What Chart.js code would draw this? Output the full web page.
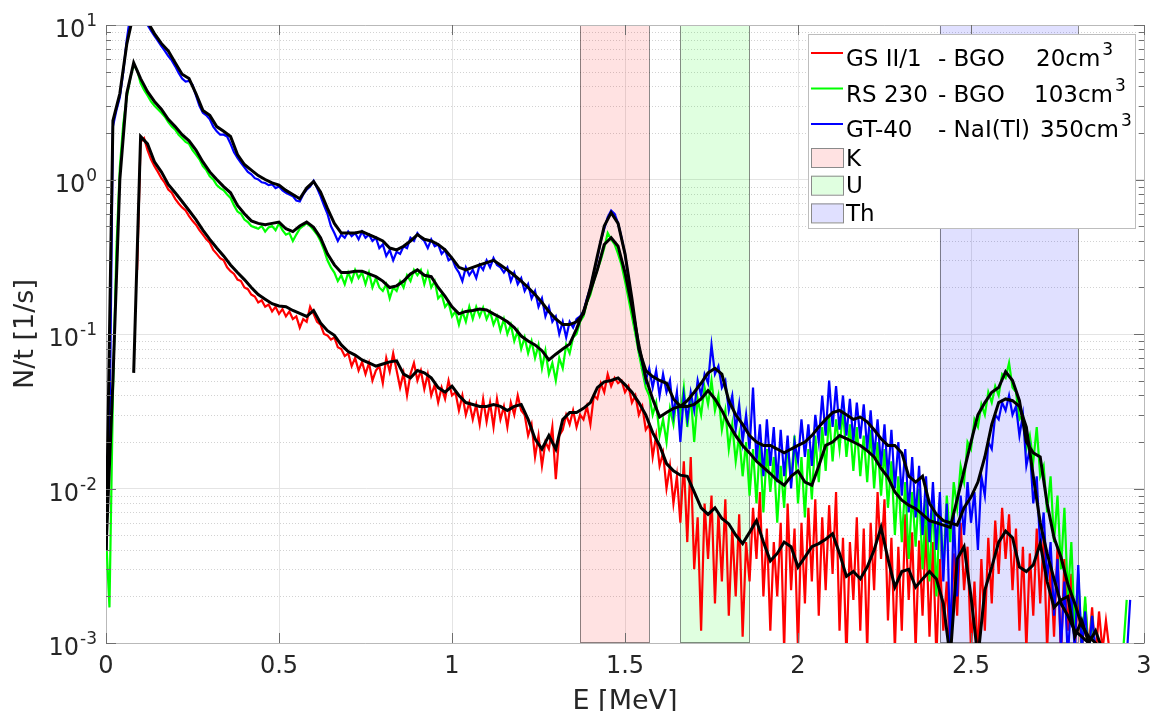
<!DOCTYPE html>
<html>
<head>
<meta charset="utf-8">
<script src="https://cdn.jsdelivr.net/npm/chart.js@4.4.1/dist/chart.umd.min.js"></script>
<style>
  html, body { margin: 0; padding: 0; background: #fff; }
  #wrap { width: 1153px; height: 711px; position: relative; }
</style>
</head>
<body>
<div id="wrap"><canvas id="spectra"></canvas></div>
<script>
// channel energies in MeV (raw spectra every 10 keV, smoothed curves every 20 keV)
var energyRaw = [];
for (var i = 0; i <= 300; i++) energyRaw.push(+(i * 0.01).toFixed(2));
var energySmooth = [];
for (var j = 0; j <= 150; j++) energySmooth.push(+(j * 0.02).toFixed(2));

var seriesColors = ['#ff0000', '#00ff00', '#0000ff'];

// GS II/1 - BGO 20cm3 (red), N/t in 1/s
var gsSpectrum = [
  null, null, null, null, null, null, null, null, null, 0.26,          // 0.00
  1.75, 1.85, 1.55, 1.35, 1.22, 1.12, 1.02, 0.95, 0.86, 0.82,          // 0.10
  0.75, 0.7, 0.66, 0.63, 0.58, 0.54, 0.51, 0.47, 0.44, 0.41,           // 0.20
  0.39, 0.35, 0.33, 0.31, 0.3, 0.27, 0.255, 0.245, 0.225, 0.22,        // 0.30
  0.2, 0.195, 0.18, 0.175, 0.16, 0.165, 0.15, 0.155, 0.14, 0.15,       // 0.40
  0.135, 0.145, 0.13, 0.14, 0.125, 0.13, 0.11, 0.125, 0.12, 0.15,      // 0.50
  0.135, 0.12, 0.115, 0.1, 0.098, 0.092, 0.095, 0.082, 0.08, 0.072,    // 0.60
  0.075, 0.062, 0.07, 0.058, 0.066, 0.055, 0.065, 0.05, 0.058, 0.062,  // 0.70
  0.048, 0.07, 0.057, 0.075, 0.058, 0.045, 0.056, 0.04, 0.055, 0.065,  // 0.80
  0.05, 0.058, 0.044, 0.055, 0.04, 0.047, 0.036, 0.045, 0.038, 0.05,   // 0.90
  0.04, 0.042, 0.032, 0.04, 0.03, 0.036, 0.028, 0.035, 0.026, 0.038,   // 1.00
  0.027, 0.036, 0.025, 0.038, 0.028, 0.034, 0.025, 0.036, 0.03, 0.04,  // 1.10
  0.032, 0.03, 0.022, 0.026, 0.016, 0.022, 0.014, 0.02, 0.018, 0.025,  // 1.20
  0.0115, 0.022, 0.024, 0.03, 0.026, 0.032, 0.025, 0.03, 0.028, 0.034, // 1.30
  0.026, 0.04, 0.038, 0.048, 0.042, 0.055, 0.046, 0.052, 0.048, 0.05,  // 1.40
  0.042, 0.046, 0.036, 0.04, 0.03, 0.034, 0.024, 0.026, 0.016, 0.022,  // 1.50
  0.014, 0.017, 0.01, 0.014, 0.008, 0.012, 0.006, 0.015, 0.0045, 0.016,          // 1.60
  0.003, 0.0065, 0.0012, 0.008, 0.0035, 0.009, 0.0018, 0.007, 0.0025, 0.0085,    // 1.70
  0.0015, 0.0055, 0.002, 0.0068, 0.0011, 0.0045, 0.0025, 0.0075, 0.0035, 0.0095, // 1.80
  0.002, 0.0055, 0.0012, 0.0045, 0.002, 0.006, 0.0009, 0.008, 0.0022, 0.0055,    // 1.90
  0.0009, 0.006, 0.0018, 0.0075, 0.0025, 0.0085, 0.0015, 0.0065, 0.0022, 0.0078, // 2.00
  0.0028, 0.0095, 0.0012, 0.0048, 0.0008, 0.0045, 0.0019, 0.0065, 0.0012, 0.0055,// 2.10
  0.0009, 0.006, 0.0022, 0.0095, 0.0035, 0.0085, 0.0014, 0.0048, 0.0009, 0.0042, // 2.20
  0.0012, 0.0068, 0.0019, 0.0052, 0.0009, 0.0046, 0.0015, 0.0058, 0.0011, 0.0045,// 2.30
  0.0008, 0.0035, 0.0012, 0.0025, 0.0008, 0.0038, 0.0015, 0.006, 0.0022, 0.0042, // 2.40
  0.0009, 0.0025, 0.0008, 0.0035, 0.0012, 0.0048, 0.0018, 0.0062, 0.0028, 0.0075,// 2.50
  0.0035, 0.0068, 0.0022, 0.0055, 0.0012, 0.0042, 0.0009, 0.0038, 0.0015, 0.0055,// 2.60
  0.0018, 0.0048, 0.0009, 0.0032, 0.0011, 0.0042, 0.0008, 0.0035, 0.0012, 0.0028,// 2.70
  0.0009, 0.0022, 0.0008, 0.0018, 0.0009, 0.0017, 0.0008, 0.0016, 0.0009, 0.0014,// 2.80
  0.0009, null, null, null, null, null, null, null, null, null,                    // 2.90
  null                                                                             // 3.00
];

// RS 230 - BGO 103cm3 (green)
var rsSpectrum = [
  0.005, 0.0017, 0.04, 0.35, 1.2, 2.3, 3.4, 4.5, 5.5, 5.1,            // 0.00
  4.2, 3.8, 3.5, 3.2, 3.0, 2.85, 2.7, 2.55, 2.35, 2.2,                // 0.10
  2.1, 1.95, 1.85, 1.75, 1.7, 1.55, 1.45, 1.35, 1.22, 1.15,           // 0.20
  1.05, 1.0, 0.92, 0.88, 0.85, 0.8, 0.76, 0.68, 0.62, 0.6,            // 0.30
  0.55, 0.53, 0.5, 0.49, 0.48, 0.5, 0.46, 0.49, 0.5, 0.47,            // 0.40
  0.52, 0.47, 0.44, 0.45, 0.4, 0.44, 0.48, 0.5, 0.52, 0.5,            // 0.50
  0.47, 0.44, 0.4, 0.35, 0.3, 0.27, 0.25, 0.22, 0.24, 0.21,           // 0.60
  0.25, 0.22, 0.26, 0.23, 0.25, 0.21, 0.25, 0.2, 0.23, 0.2,           // 0.70
  0.19, 0.21, 0.17, 0.2, 0.19, 0.22, 0.2, 0.24, 0.22, 0.26,           // 0.80
  0.24, 0.26, 0.21, 0.25, 0.2, 0.22, 0.17, 0.18, 0.15, 0.16,          // 0.90
  0.13, 0.14, 0.115, 0.14, 0.12, 0.15, 0.125, 0.15, 0.13, 0.148,      // 1.00
  0.125, 0.14, 0.115, 0.13, 0.105, 0.125, 0.1, 0.115, 0.09, 0.105,    // 1.10
  0.08, 0.095, 0.075, 0.09, 0.07, 0.085, 0.06, 0.078, 0.055, 0.065,   // 1.20
  0.05, 0.07, 0.06, 0.085, 0.075, 0.095, 0.1, 0.12, 0.13, 0.16,       // 1.30
  0.18, 0.22, 0.26, 0.3, 0.36, 0.45, 0.41, 0.38, 0.33, 0.28,          // 1.40
  0.22, 0.17, 0.13, 0.1, 0.075, 0.058, 0.045, 0.04, 0.03, 0.036,      // 1.50
  0.022, 0.028, 0.02, 0.033, 0.026, 0.04, 0.03, 0.045, 0.025, 0.04,   // 1.60
  0.02, 0.038, 0.03, 0.045, 0.035, 0.05, 0.032, 0.04, 0.024, 0.032,   // 1.70
  0.018, 0.026, 0.015, 0.022, 0.012, 0.02, 0.009, 0.018, 0.008, 0.02, // 1.80
  0.007, 0.018, 0.0095, 0.016, 0.006, 0.014, 0.0075, 0.02, 0.011, 0.022,   // 1.90
  0.008, 0.016, 0.0065, 0.018, 0.0085, 0.022, 0.011, 0.025, 0.013, 0.03,   // 2.00
  0.015, 0.028, 0.018, 0.032, 0.016, 0.026, 0.013, 0.025, 0.012, 0.022,    // 2.10
  0.011, 0.024, 0.01, 0.02, 0.009, 0.018, 0.0075, 0.015, 0.005, 0.012,     // 2.20
  0.0045, 0.011, 0.0035, 0.0095, 0.0042, 0.01, 0.003, 0.0085, 0.0025, 0.009,// 2.30
  0.002, 0.0075, 0.003, 0.009, 0.0045, 0.011, 0.0075, 0.014, 0.011, 0.02,  // 2.40
  0.018, 0.028, 0.025, 0.035, 0.03, 0.042, 0.036, 0.046, 0.04, 0.055,      // 2.50
  0.052, 0.065, 0.045, 0.042, 0.028, 0.03, 0.018, 0.022, 0.015, 0.025,     // 2.60
  0.012, 0.014, 0.007, 0.012, 0.0045, 0.009, 0.003, 0.0075, 0.002, 0.0045, // 2.70
  0.0012, 0.0028, 0.0009, 0.002, 0.0008, 0.0015, 0.0008, null, null, null, // 2.80
  null, null, null, null, 0.0009, 0.0019, null, null, null, null,          // 2.90
  null                                                                     // 3.00
];

// GT-40 - NaI(Tl) 350cm3 (blue)
var gtSpectrum = [
  0.004, 0.02, 2.2, 2.8, 3.4, 5.0, 8.0, 11.5, 13, 13,                 // 0.00
  12, 10.8, 10, 9.2, 8.5, 7.9, 7.3, 6.8, 6.3, 5.9,                    // 0.10
  5.4, 4.9, 4.5, 4.3, 4.35, 4.1, 3.5, 3.0, 2.7, 2.6,                  // 0.20
  2.45, 2.2, 2.05, 1.95, 1.95, 1.9, 1.7, 1.5, 1.38, 1.28,             // 0.30
  1.2, 1.12, 1.08, 1.02, 1.0, 0.96, 0.95, 0.92, 0.93, 0.88,           // 0.40
  0.9, 0.85, 0.82, 0.8, 0.78, 0.73, 0.72, 0.8, 0.86, 0.9,             // 0.50
  0.98, 0.88, 0.78, 0.68, 0.6, 0.5, 0.45, 0.4, 0.44, 0.42,            // 0.60
  0.46, 0.43, 0.45, 0.41, 0.46, 0.42, 0.44, 0.4, 0.42, 0.36,          // 0.70
  0.38, 0.32, 0.35, 0.3, 0.34, 0.33, 0.37, 0.36, 0.42, 0.4,           // 0.80
  0.45, 0.42, 0.4, 0.36, 0.41, 0.37, 0.38, 0.33, 0.35, 0.3,           // 0.90
  0.31, 0.27, 0.25, 0.22, 0.27, 0.24, 0.26, 0.23, 0.28, 0.26,         // 1.00
  0.3, 0.27, 0.31, 0.28, 0.27, 0.25, 0.27, 0.22, 0.25, 0.21,          // 1.10
  0.23, 0.19, 0.21, 0.17, 0.19, 0.15, 0.17, 0.13, 0.15, 0.12,         // 1.20
  0.13, 0.1, 0.12, 0.095, 0.12, 0.11, 0.125, 0.13, 0.14, 0.17,        // 1.30
  0.2, 0.25, 0.31, 0.4, 0.48, 0.57, 0.63, 0.6, 0.52, 0.42,            // 1.40
  0.33, 0.23, 0.16, 0.11, 0.08, 0.065, 0.05, 0.06, 0.045, 0.058,      // 1.50
  0.04, 0.055, 0.042, 0.05, 0.03, 0.042, 0.02, 0.04, 0.028, 0.042,    // 1.60
  0.032, 0.05, 0.04, 0.055, 0.048, 0.085, 0.055, 0.062, 0.045, 0.05,  // 1.70
  0.032, 0.04, 0.024, 0.035, 0.02, 0.03, 0.018, 0.045, 0.015, 0.026,  // 1.80
  0.012, 0.028, 0.014, 0.025, 0.011, 0.024, 0.012, 0.022, 0.01, 0.02, // 1.90
  0.015, 0.028, 0.016, 0.026, 0.014, 0.03, 0.02, 0.04, 0.022, 0.05,   // 2.00
  0.025, 0.046, 0.024, 0.04, 0.022, 0.038, 0.02, 0.036, 0.021, 0.035, // 2.10
  0.018, 0.032, 0.016, 0.028, 0.014, 0.026, 0.012, 0.024, 0.01, 0.02, // 2.20
  0.009, 0.018, 0.007, 0.016, 0.0065, 0.014, 0.005, 0.012, 0.0045, 0.011,   // 2.30
  0.004, 0.0095, 0.0025, 0.008, 0.0009, 0.007, 0.002, 0.009, 0.005, 0.011,  // 2.40
  0.006, 0.0095, 0.004, 0.012, 0.009, 0.02, 0.018, 0.03, 0.028, 0.036,      // 2.50
  0.032, 0.04, 0.03, 0.034, 0.022, 0.03, 0.014, 0.018, 0.008, 0.012,        // 2.60
  0.004, 0.007, 0.0025, 0.0045, 0.0015, 0.0035, 0.0009, 0.0025, 0.0008, 0.002, // 2.70
  0.0009, 0.0032, 0.0009, 0.0016, 0.0008, 0.0015, 0.0009, null, null, null, // 2.80
  null, null, null, null, null, 0.0008, 0.0019, null, null, null,           // 2.90
  null                                                                      // 3.00
];

// smoothed curves (black), every 20 keV
var gsSmooth = [
  null, null, null, null, 0.056, 1.9, 1.7, 1.3, 1.12, 0.93,                   // 0.00
  0.82, 0.72, 0.63, 0.55, 0.47, 0.41, 0.36, 0.32, 0.28, 0.25,                 // 0.20
  0.225, 0.2, 0.18, 0.168, 0.157, 0.152, 0.15, 0.142, 0.136, 0.13,            // 0.40
  0.142, 0.118, 0.105, 0.098, 0.085, 0.077, 0.073, 0.068, 0.065, 0.062,       // 0.60
  0.064, 0.066, 0.067, 0.055, 0.052, 0.058, 0.056, 0.052, 0.045, 0.042,       // 0.80
  0.046, 0.04, 0.036, 0.035, 0.034, 0.034, 0.035, 0.034, 0.032, 0.034,        // 1.00
  0.035, 0.028, 0.021, 0.018, 0.022, 0.018, 0.028, 0.031, 0.031, 0.033,       // 1.20
  0.036, 0.045, 0.049, 0.05, 0.052, 0.047, 0.042, 0.036, 0.03, 0.023,         // 1.40
  0.019, 0.0145, 0.013, 0.0122, 0.012, 0.0095, 0.0075, 0.0068, 0.0075, 0.0064,// 1.60
  0.0059, 0.005, 0.0044, 0.0052, 0.0062, 0.0045, 0.0034, 0.0038, 0.0045, 0.0042, // 1.80
  0.0031, 0.0036, 0.0042, 0.0044, 0.0047, 0.0051, 0.0038, 0.0027, 0.0029, 0.0026, // 2.00
  0.0031, 0.004, 0.0056, 0.0035, 0.0023, 0.0029, 0.003, 0.0023, 0.0026, 0.0029,  // 2.20
  0.0026, 0.0018, 0.0008, 0.0035, 0.0042, 0.002, 0.0008, 0.0022, 0.0031, 0.0045, // 2.40
  0.0053, 0.0048, 0.0031, 0.0029, 0.0032, 0.0044, 0.0025, 0.0017, 0.0019, 0.002, // 2.60
  0.0011, 0.0014, 0.001, 0.0012, 0.0009, null, null, null, null, null,        // 2.80
  null                                                                         // 3.00
];

var rsSmooth = [
  0.004, 0.05, 1.0, 3.6, 5.7, 4.5, 3.7, 3.2, 2.85, 2.45,                      // 0.00
  2.2, 1.95, 1.78, 1.55, 1.3, 1.12, 1.0, 0.9, 0.82, 0.68,                     // 0.20
  0.6, 0.54, 0.52, 0.51, 0.52, 0.53, 0.48, 0.46, 0.5, 0.53,                   // 0.40
  0.49, 0.42, 0.33, 0.28, 0.25, 0.25, 0.255, 0.255, 0.245, 0.235,             // 0.60
  0.22, 0.2, 0.205, 0.22, 0.245, 0.26, 0.24, 0.235, 0.2, 0.175,               // 0.80
  0.15, 0.135, 0.14, 0.142, 0.145, 0.143, 0.135, 0.128, 0.12, 0.11,           // 1.00
  0.097, 0.09, 0.085, 0.078, 0.068, 0.074, 0.08, 0.086, 0.108, 0.14,          // 1.20
  0.19, 0.26, 0.38, 0.42, 0.37, 0.25, 0.15, 0.085, 0.052, 0.038,              // 1.40
  0.029, 0.031, 0.033, 0.034, 0.034, 0.035, 0.038, 0.043, 0.038, 0.032,       // 1.60
  0.026, 0.022, 0.019, 0.017, 0.015, 0.0137, 0.0125, 0.0113, 0.0105, 0.012,   // 1.80
  0.013, 0.011, 0.0105, 0.014, 0.019, 0.02, 0.022, 0.021, 0.02, 0.019,        // 2.00
  0.0176, 0.016, 0.0135, 0.0118, 0.0095, 0.0084, 0.0078, 0.0074, 0.0068, 0.0062, // 2.20
  0.006, 0.0058, 0.0056, 0.0085, 0.013, 0.02, 0.03, 0.036, 0.042, 0.045,      // 2.40
  0.057, 0.05, 0.037, 0.02, 0.017, 0.016, 0.008, 0.0048, 0.0036, 0.0024,      // 2.60
  0.0018, 0.0013, 0.0011, 0.001, 0.0009, null, null, null, null, null,        // 2.80
  null                                                                         // 3.00
];

var gtSmooth = [
  0.004, 2.4, 3.6, 7.5, 12, 12.5, 10.5, 8.8, 7.6, 6.8,                        // 0.00
  5.7, 4.8, 4.5, 3.6, 2.8, 2.6, 2.2, 2.05, 1.9, 1.45,                         // 0.20
  1.25, 1.15, 1.06, 1.0, 0.95, 0.92, 0.85, 0.8, 0.75, 0.88,                   // 0.40
  0.97, 0.83, 0.65, 0.52, 0.45, 0.45, 0.45, 0.46, 0.44, 0.42,                 // 0.60
  0.4, 0.36, 0.35, 0.37, 0.4, 0.44, 0.41, 0.4, 0.38, 0.35,                    // 0.80
  0.31, 0.27, 0.26, 0.27, 0.28, 0.29, 0.3, 0.28, 0.26, 0.24,                  // 1.00
  0.22, 0.2, 0.18, 0.16, 0.14, 0.125, 0.115, 0.115, 0.12, 0.135,              // 1.20
  0.2, 0.32, 0.5, 0.61, 0.52, 0.33, 0.17, 0.08, 0.058, 0.053,                 // 1.40
  0.05, 0.048, 0.038, 0.034, 0.037, 0.042, 0.048, 0.056, 0.06, 0.055,         // 1.60
  0.037, 0.03, 0.026, 0.022, 0.02, 0.019, 0.019, 0.018, 0.017, 0.018,         // 1.80
  0.019, 0.02, 0.022, 0.025, 0.028, 0.031, 0.032, 0.03, 0.028, 0.029,         // 2.00
  0.027, 0.024, 0.021, 0.019, 0.019, 0.017, 0.012, 0.011, 0.012, 0.008,       // 2.20
  0.0068, 0.0062, 0.006, 0.0058, 0.0075, 0.0088, 0.011, 0.016, 0.026, 0.036,  // 2.40
  0.038, 0.037, 0.034, 0.025, 0.012, 0.006, 0.0038, 0.0026, 0.0018, 0.0015,   // 2.60
  0.0012, 0.0011, 0.001, 0.0009, null, null, null, null, null, null,          // 2.80
  null                                                                         // 3.00
];

// energy windows
var windowNames = ['K', 'U', 'Th'];
var windowStart = [1.37, 1.66, 2.41];
var windowEnd = [1.57, 1.86, 2.81];
var windowFill = ['rgba(255,0,0,0.115)', 'rgba(0,255,0,0.12)', 'rgba(0,0,255,0.12)'];

// legend text, split in the columns the original lines up with spaces
var legendRows = [
  ['GS II/1', '- BGO', '20cm', '3'],
  ['RS 230', '- BGO', '103cm', '3'],
  ['GT-40', '- NaI(Tl)', '350cm', '3']
];
var legendUnitX = [228, 226, 232];

var yExponents = [-3, -2, -1, 0, 1];

var FONT = 'DejaVu Sans';
var TEXT = '#262626';

function points(xs, ys) {
  return ys.map(function (v, k) { return { x: xs[k], y: v }; });
}

function isDecade(v) {
  var lg = Math.log10(v);
  return Math.abs(lg - Math.round(lg)) < 1e-6;
}

var matlabAxes = {
  id: 'matlabAxes',
  beforeDatasetsDraw: function (chart) {
    var c = chart.ctx, a = chart.chartArea, xs = chart.scales.x, ys = chart.scales.y;
    c.save();
    // dotted minor grid
    c.strokeStyle = '#d2d2d2';
    c.lineWidth = 1;
    c.setLineDash([1, 2]);
    for (var e = 0; e < yExponents.length - 1; e++) {
      for (var m = 2; m <= 9; m++) {
        var y = Math.round(ys.getPixelForValue(m * Math.pow(10, yExponents[e]))) + 0.5;
        c.beginPath(); c.moveTo(a.left, y); c.lineTo(a.right, y); c.stroke();
      }
    }
    c.setLineDash([]);
    // K / U / Th windows
    windowNames.forEach(function (n, k) {
      var x0 = xs.getPixelForValue(windowStart[k]);
      var x1 = xs.getPixelForValue(windowEnd[k]);
      c.fillStyle = windowFill[k];
      c.fillRect(x0, a.top, x1 - x0, a.bottom - a.top);
      c.strokeStyle = 'rgba(0,0,0,0.45)';
      c.strokeRect(Math.round(x0) + 0.5, a.top + 0.5, Math.round(x1 - x0), a.bottom - a.top - 1);
    });
    c.restore();
  },
  afterDraw: function (chart) {
    var c = chart.ctx, a = chart.chartArea, xs = chart.scales.x, ys = chart.scales.y;
    c.save();
    // box: top and right edges
    c.strokeStyle = '#b9b9b9';
    c.lineWidth = 1;
    c.beginPath();
    c.moveTo(a.left, a.top + 0.5); c.lineTo(a.right + 0.5, a.top + 0.5); c.lineTo(a.right + 0.5, a.bottom);
    c.stroke();

    // inward ticks
    c.strokeStyle = '#6e6e6e';
    xs.ticks.forEach(function (t) {
      var x = Math.round(xs.getPixelForValue(t.value)) + 0.5;
      c.beginPath();
      c.moveTo(x, a.bottom); c.lineTo(x, a.bottom - 10);
      c.moveTo(x, a.top); c.lineTo(x, a.top + 10);
      c.stroke();
    });
    for (var e = 0; e < yExponents.length; e++) {
      for (var m = 1; m <= 9; m++) {
        if (e === yExponents.length - 1 && m > 1) break;
        var v = m * Math.pow(10, yExponents[e]);
        var y = Math.round(ys.getPixelForValue(v)) + 0.5;
        var len = m === 1 ? 10 : 5;
        c.beginPath();
        c.moveTo(a.left, y); c.lineTo(a.left + len, y);
        c.moveTo(a.right, y); c.lineTo(a.right - len, y);
        c.stroke();
      }
    }

    // y tick labels 10^n
    c.fillStyle = TEXT;
    c.textAlign = 'left';
    c.textBaseline = 'alphabetic';
    yExponents.forEach(function (p) {
      var y = ys.getPixelForValue(Math.pow(10, p));
      var right = a.left - 9;
      c.font = '17px "' + FONT + '"';
      var ew = c.measureText(String(p)).width;
      c.fillText(String(p), right - ew, y + 1);
      c.font = '24px "' + FONT + '"';
      var bw = c.measureText('10').width;
      c.fillText('10', right - ew - 1 - bw, y + 12);
    });

    // axis titles
    c.font = '27px "' + FONT + '"';
    c.textAlign = 'center';
    c.fillText('E [MeV]', (a.left + a.right) / 2, 709);
    c.save();
    c.translate(26, (a.top + a.bottom) / 2);
    c.rotate(-Math.PI / 2);
    c.textBaseline = 'middle';
    c.fillText('N/t [1/s]', 0, 0);
    c.restore();

    // legend
    var L = a.right - 336, T = a.top + 9;
    c.fillStyle = '#ffffff';
    c.fillRect(L, T, 328, 195);
    c.strokeStyle = '#bdbdbd';
    c.strokeRect(L + 0.5, T + 0.5, 327, 194);
    c.textAlign = 'left';
    c.textBaseline = 'alphabetic';
    legendRows.forEach(function (row, k) {
      var base = T + 32 + k * 35.5;
      c.strokeStyle = seriesColors[k];
      c.lineWidth = 2;
      c.beginPath(); c.moveTo(L + 3, base - 13); c.lineTo(L + 35, base - 13); c.stroke();
      c.fillStyle = '#000';
      c.font = '23px "' + FONT + '"';
      c.fillText(row[0], L + 38, base);
      c.fillText(row[1], L + 130, base);
      c.fillText(row[2], L + legendUnitX[k], base);
      var uw = c.measureText(row[2]).width;
      c.font = '17px "' + FONT + '"';
      c.fillText(row[3], L + legendUnitX[k] + uw + 2, base - 11);
    });
    windowNames.forEach(function (n, k) {
      var top = T + 114 + k * 27.7;
      c.fillStyle = '#ffffff';
      c.fillRect(L + 3, top, 32, 19);
      c.fillStyle = windowFill[k];
      c.fillRect(L + 3, top, 32, 19);
      c.strokeStyle = '#8a8a8a';
      c.lineWidth = 1;
      c.strokeRect(L + 3.5, top + 0.5, 32, 19);
      c.fillStyle = '#000';
      c.font = '23px "' + FONT + '"';
      c.fillText(n, L + 38, top + 17.5);
    });
    c.restore();
  }
};

function line(label, xs, ys, color, width, order) {
  return {
    label: label,
    data: points(xs, ys),
    borderColor: color,
    backgroundColor: color,
    borderWidth: width,
    pointRadius: 0,
    tension: 0,
    spanGaps: false,
    clip: 0,
    order: order
  };
}

new Chart(document.getElementById('spectra'), {
  type: 'line',
  data: {
    datasets: [
      line('GS II/1 - BGO 20cm3', energyRaw, gsSpectrum, seriesColors[0], 2.2, 6),
      line('RS 230 - BGO 103cm3', energyRaw, rsSpectrum, seriesColors[1], 2.2, 5),
      line('GT-40 - NaI(Tl) 350cm3', energyRaw, gtSpectrum, seriesColors[2], 2.2, 4),
      line('GS smoothed', energySmooth, gsSmooth, '#000000', 3, 3),
      line('RS smoothed', energySmooth, rsSmooth, '#000000', 3, 2),
      line('GT smoothed', energySmooth, gtSmooth, '#000000', 3, 1)
    ]
  },
  options: {
    responsive: true,
    maintainAspectRatio: false,
    animation: false,
    events: [],
    layout: { padding: { top: 25, right: 9, left: 0, bottom: 0 } },
    plugins: { legend: { display: false }, tooltip: { enabled: false } },
    scales: {
      x: {
        type: 'linear',
        min: 0,
        max: 3,
        ticks: {
          stepSize: 0.5, maxRotation: 0, padding: 9, color: TEXT,
          font: { family: FONT, size: 24 },
          callback: function (v) { return String(+v.toFixed(2)); }
        },
        grid: { color: '#e4e4e4', drawTicks: false },
        border: { color: '#b9b9b9' },
        afterFit: function (s) { s.height = 68; s.paddingLeft = 0; s.paddingRight = 0; }
      },
      y: {
        type: 'logarithmic',
        min: 0.001,
        max: 10,
        ticks: { display: false },
        grid: {
          drawTicks: false,
          color: function (ctx) {
            return ctx.tick && isDecade(ctx.tick.value) ? '#e4e4e4' : 'rgba(0,0,0,0)';
          }
        },
        border: { color: '#b9b9b9' },
        afterFit: function (s) { s.width = 106; s.paddingTop = 0; s.paddingBottom = 0; }
      }
    }
  },
  plugins: [matlabAxes]
});
</script>
</body>
</html>
